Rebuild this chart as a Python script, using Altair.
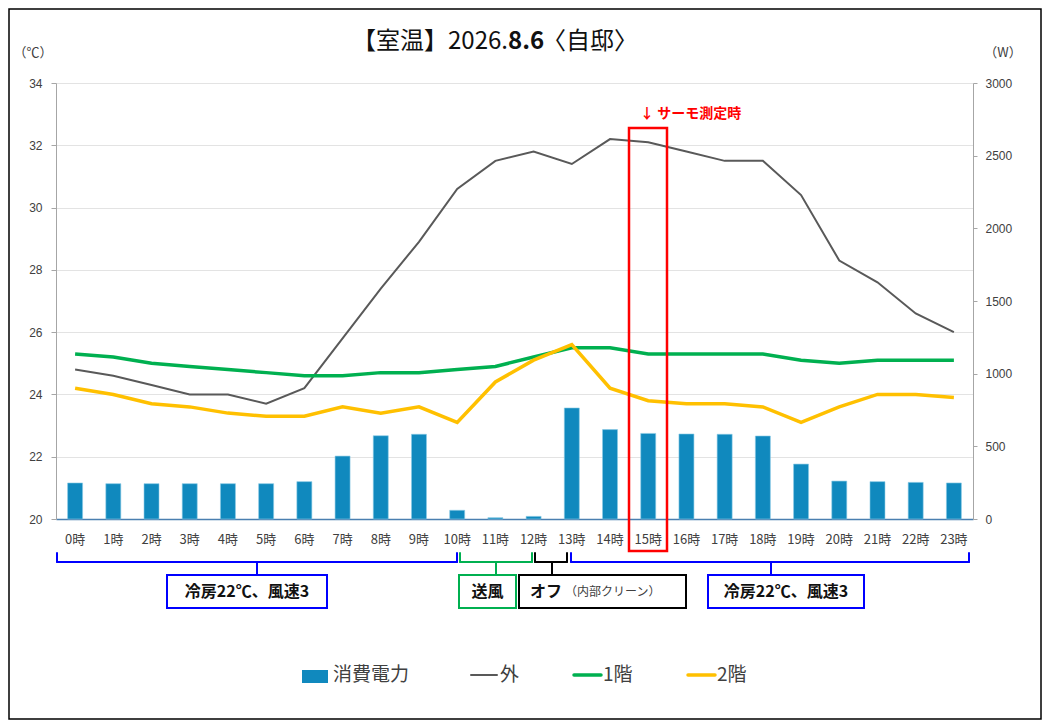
import altair as alt
import pandas as pd

hours = ["0時", "1時", "2時", "3時", "4時", "5時", "6時", "7時", "8時", "9時", "10時", "11時",
         "12時", "13時", "14時", "15時", "16時", "17時", "18時", "19時", "20時", "21時", "22時", "23時"]
power = [248, 243, 243, 243, 243, 243, 257, 433, 573, 583, 60, 9,
         18, 764, 615, 589, 585, 583, 571, 378, 261, 257, 252, 248]
outdoor = [24.8, 24.6, 24.3, 24.0, 24.0, 23.7, 24.2, 25.8, 27.4, 28.9, 30.6, 31.5,
           31.8, 31.4, 32.2, 32.1, 31.8, 31.5, 31.5, 30.4, 28.3, 27.6, 26.6, 26.0]
floor1 = [25.3, 25.2, 25.0, 24.9, 24.8, 24.7, 24.6, 24.6, 24.7, 24.7, 24.8, 24.9,
          25.2, 25.5, 25.5, 25.3, 25.3, 25.3, 25.3, 25.1, 25.0, 25.1, 25.1, 25.1]
floor2 = [24.2, 24.0, 23.7, 23.6, 23.4, 23.3, 23.3, 23.6, 23.4, 23.6, 23.1, 24.4,
          25.1, 25.6, 24.2, 23.8, 23.7, 23.7, 23.6, 23.1, 23.6, 24.0, 24.0, 23.9]
temp_ticks = [20, 22, 24, 26, 28, 30, 32, 34]
power_ticks = [0, 500, 1000, 1500, 2000, 2500, 3000]

df = pd.DataFrame({"hour": hours, "power": power, "outdoor": outdoor,
                   "f1": floor1, "f2": floor2})

JP = "Noto Sans CJK JP"
LAT = "Liberation Sans"
TXT = "#404040"
BLUE_BAR = "#1089BE"

# plot origin in page pixels
OX, OY = 56, 83
W, H = 917, 436

xenc = alt.X("hour:N", sort=hours, title=None,
             scale=alt.Scale(paddingInner=0, paddingOuter=0),
             axis=alt.Axis(labelAngle=0, labelFont=JP, labelFontSize=13, labelColor=TXT,
                           ticks=False, labelPadding=14, domainColor="#4A7FB0",
                           domainWidth=1.5, grid=False))

bars = alt.Chart(df).mark_bar(size=15, color=BLUE_BAR, stroke="#8CCBE6", strokeWidth=0.6).encode(
    x=xenc,
    y=alt.Y("power:Q", title=None, scale=alt.Scale(domain=[0, 3000], nice=False),
            axis=alt.Axis(orient="right", values=power_ticks, grid=False, labelFont=LAT,
                          labelFontSize=12, labelColor=TXT, domainColor="#A6A6A6",
                          tickColor="#A6A6A6", tickSize=4, labelPadding=8, format="d")),
)

yscale = alt.Scale(domain=[20, 34], nice=False, zero=False)
yaxis = alt.Axis(orient="left", values=temp_ticks, grid=True, gridColor="#E3E3E3",
                 labelFont=LAT, labelFontSize=12, labelColor=TXT, domainColor="#A6A6A6",
                 tickColor="#A6A6A6", tickSize=5, labelPadding=9, format="d")

l_out = alt.Chart(df).mark_line(color="#595959", strokeWidth=2).encode(
    x=xenc, y=alt.Y("outdoor:Q", title=None, scale=yscale, axis=yaxis))
l_f1 = alt.Chart(df).mark_line(color="#00B050", strokeWidth=3.5).encode(
    x=xenc, y=alt.Y("f1:Q", title=None, scale=yscale, axis=yaxis))
l_f2 = alt.Chart(df).mark_line(color="#FFC000", strokeWidth=3.5).encode(
    x=xenc, y=alt.Y("f2:Q", title=None, scale=yscale, axis=yaxis))

temps = alt.layer(l_out, l_f1, l_f2)
main = alt.layer(bars, temps).resolve_scale(y="independent")

one = pd.DataFrame({"a": [0]})


def T(text, x, y, size=12, color=TXT, weight="normal", align="center", font=JP):
    return alt.Chart(one).mark_text(text=text, fontSize=size, color=color, fontWeight=weight,
                                    align=align, baseline="middle", font=font).encode(
        x=alt.value(x - OX), y=alt.value(y - OY))


def R(x1, y1, x2, y2, color, width=2):
    return alt.Chart(one).mark_rule(color=color, strokeWidth=width, strokeCap="round").encode(
        x=alt.value(x1 - OX), x2=alt.value(x2 - OX), y=alt.value(y1 - OY), y2=alt.value(y2 - OY))


def BOX(x1, y1, x2, y2, color, width=2, fill="white"):
    return alt.Chart(one).mark_rect(fill=fill, stroke=color, strokeWidth=width).encode(
        x=alt.value(x1 - OX), x2=alt.value(x2 - OX), y=alt.value(y1 - OY), y2=alt.value(y2 - OY))


def BRACKET(xa, xb, xc, color):
    return [R(xa, 553, xa, 562, color), R(xa, 562, xb, 562, color),
            R(xb, 553, xb, 562, color), R(xc, 562, xc, 575, color)]


ann = []
# outer frame
ann.append(alt.Chart(one).mark_rect(fill=None, stroke="black", strokeWidth=1.5).encode(
    x=alt.value(9 - OX), x2=alt.value(1041 - OX), y=alt.value(9 - OY), y2=alt.value(719 - OY)))
# title
ann.append(T("【室温】2026.", 508, 42, size=24, color="#111111", align="right"))
ann.append(T("8.6", 508, 42, size=24, color="#111111", weight="bold", align="left"))
ann.append(T("〈自邸〉", 542, 42, size=24, color="#111111", align="left"))
# units
ann.append(T("（℃）", 33, 53, size=13))
ann.append(T("（W）", 1003, 53, size=13))
# thermo marker
ann.append(alt.Chart(one).mark_rect(fill=None, stroke="#FF0000", strokeWidth=2.5).encode(
    x=alt.value(629 - OX), x2=alt.value(667 - OX), y=alt.value(128 - OY), y2=alt.value(551 - OY)))
ann.append(T("↓ サーモ測定時", 640, 114, size=14, color="#FF0000", weight="bold", align="left"))
# brackets
ann += BRACKET(57, 457, 257, "#0000FF")
ann += BRACKET(460, 532, 496, "#00B050")
ann += BRACKET(535, 567, 552, "#000000")
ann += BRACKET(571, 969, 771, "#0000FF")
# boxes
ann.append(BOX(167, 575, 327, 608, "#0000FF"))
ann.append(T("冷房22℃、風速3", 247, 592, size=16, color="#111111", weight="bold"))
ann.append(BOX(459, 575, 516, 608, "#00B050"))
ann.append(T("送風", 487.5, 592, size=16, color="#111111", weight="bold"))
ann.append(BOX(519, 575, 686, 608, "#000000"))
ann.append(T("オフ", 530, 592, size=16, color="#111111", weight="bold", align="left"))
ann.append(T("（内部クリーン）", 565, 592, size=12, color=TXT, align="left"))
ann.append(BOX(708, 575, 864, 608, "#0000FF"))
ann.append(T("冷房22℃、風速3", 786, 592, size=16, color="#111111", weight="bold"))
# legend
ann.append(BOX(302, 670, 328, 683, BLUE_BAR, width=0, fill=BLUE_BAR))
ann.append(T("消費電力", 333, 675, size=19, align="left"))
ann.append(R(471, 675, 497, 675, "#595959", 2))
ann.append(T("外", 500, 675, size=19, align="left"))
ann.append(R(574, 675, 601, 675, "#00B050", 3.5))
ann.append(T("1階", 603, 675, size=19, align="left"))
ann.append(R(688, 675, 715, 675, "#FFC000", 3.5))
ann.append(T("2階", 717, 675, size=19, align="left"))

chart = alt.layer(main, *ann).properties(
    width=W, height=H,
    autosize=alt.AutoSizeParams(type="none"),
    padding={"left": OX - 8, "top": OY - 8, "right": 1034 - (OX - 8) - W,
             "bottom": 712 - (OY - 8) - H},
    background="white",
).configure_view(stroke=None)

chart.save("out.html", embed_options={"renderer": "svg", "actions": False})
